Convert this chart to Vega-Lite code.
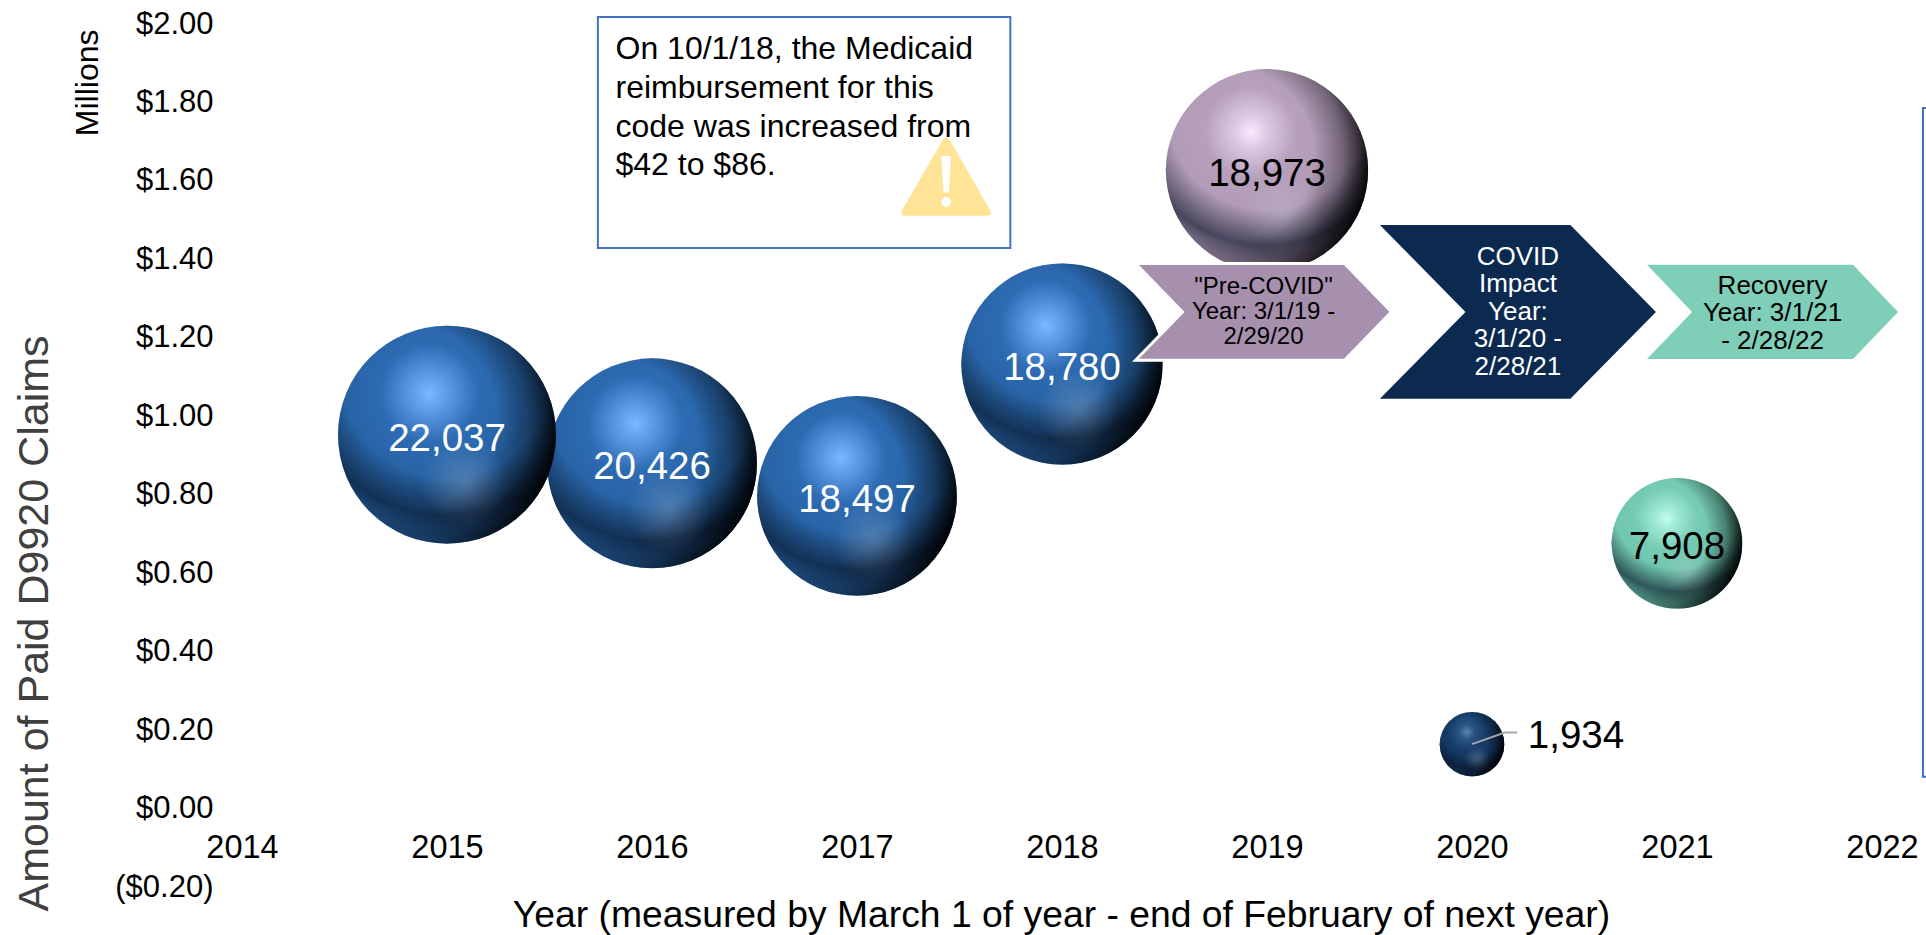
{
"$schema":"https://vega.github.io/schema/vega-lite/v6.json",
"autosize":{"type":"none"},
"padding":{"left":242,"top":22,"right":44,"bottom":50},
"width":1640,"height":863,
"background":"white",
"config":{"font":"Liberation Sans","view":{"stroke":null}},
"datasets":{
"bubbles":[
{"year":2015,"amount":0.948,"claims":22037,"period":"before"},
{"year":2016,"amount":0.875,"claims":20426,"period":"before"},
{"year":2017,"amount":0.792,"claims":18497,"period":"before"},
{"year":2018,"amount":1.128,"claims":18780,"period":"before"},
{"year":2019,"amount":1.622,"claims":18973,"period":"pre"},
{"year":2020,"amount":0.159,"claims":1934,"period":"impact"},
{"year":2021,"amount":0.671,"claims":7908,"period":"recovery"}
],
"chevrons":[
{"year":2018.983,"amount":1.261,"period":"pre","label":"\"Pre-COVID\"\nYear: 3/1/19 -\n2/29/20"},
{"year":2020.224,"amount":1.261,"period":"impact","label":"COVID\nImpact\nYear:\n3/1/20 -\n2/28/21"},
{"year":2021.466,"amount":1.261,"period":"recovery","label":"Recovery\nYear: 3/1/21\n- 2/28/22"}
],
"boxes":[
{"year":2015.736,"year2":2017.748,"amount":2.013,"amount2":1.424},
{"year":2022.2,"year2":2022.6,"amount":1.781,"amount2":0.076}
],
"note":[{"year":2015.822,"amount":1.788,"label":"On 10/1/18, the Medicaid\nreimbursement for this\ncode was increased from\n$42 to $86."}],
"warning":[{"year":2017.435,"amount":1.606}],
"units":[{"year":2013.25,"amount":1.845,"label":"Millions"}],
"leader":[{"year":2020.0,"amount":0.159},{"year":2020.16,"amount":0.1885},{"year":2020.22,"amount":0.1885}]
},
"encoding":{
"x":{"field":"year","type":"quantitative","scale":{"domain":[2014,2022],"nice":false,"zero":false},
"axis":{"values":[2014,2015,2016,2017,2018,2019,2020,2021,2022],"format":"d","grid":false,"ticks":false,"domain":false,"offset":-54,"labelPadding":0,"labelBaseline":"top","labelFontSize":32.5,"labelColor":"#000000","labelOverlap":false,"labelBound":false,"labelFlush":false,"title":"Year (measured by March 1 of year - end of February of next year)","titleFontSize":37.3,"titleFontWeight":"normal","titleColor":"#000000","titleX":819,"titleY":84,"titleBaseline":"middle","titleAlign":"center"}},
"y":{"field":"amount","type":"quantitative","scale":{"domain":[-0.2,2],"nice":false,"zero":false},
"axis":{"values":[-0.2,0,0.2,0.4,0.6,0.8,1,1.2,1.4,1.6,1.8,2],"labelExpr":"datum.value<0?'($'+format(-datum.value,'.2f')+')':'$'+format(datum.value,'.2f')","grid":false,"ticks":false,"domain":false,"labelPadding":29,"labelFontSize":31,"labelOffset":2,"labelColor":"#000000","labelOverlap":false,"labelBound":false,"labelFlush":false,"title":"Amount of Paid D9920 Claims","titleFontSize":43,"titleFontWeight":"normal","titleColor":"#404040","titleX":-195,"titleY":601,"titleBaseline":"alphabetic","titleAlign":"center","titleAngle":270}}
},
"layer":[
{"data":{"name":"boxes"},"mark":{"type":"rect","fill":"white","stroke":"#4472c4","strokeWidth":2},"encoding":{"x2":{"field":"year2"},"y2":{"field":"amount2"}}},
{"data":{"name":"warning"},"mark":{"type":"point","filled":true,"opacity":1,"fill":"#ffe498","stroke":null,"size":7921,"shape":"M-0.08,-0.82 Q0,-0.95 0.08,-0.82 L0.98,0.74 Q1.06,0.88 0.9,0.88 L-0.9,0.88 Q-1.06,0.88 -0.98,0.74 Z"},"encoding":{}},
{"data":{"name":"warning"},"mark":{"type":"point","filled":true,"opacity":1,"fill":"#ffffff","stroke":null,"size":7921,"shape":"M-0.11,-0.46 L0.11,-0.46 L0.06,0.36 L-0.06,0.36 Z M-0.11,0.57 A0.11,0.11 0 1 1 0.11,0.57 A0.11,0.11 0 1 1 -0.11,0.57 Z"},"encoding":{}},
{"data":{"name":"note"},"mark":{"type":"text","align":"left","baseline":"middle","fontSize":32,"lineHeight":38.7,"lineBreak":"\n","color":"#000000","dy":-56},"encoding":{"text":{"field":"label"}}},
{"data":{"name":"units"},"mark":{"type":"text","align":"center","baseline":"middle","angle":270,"fontSize":32,"color":"#000000"},"encoding":{"text":{"field":"label"}}},
{"data":{"name":"bubbles"},"transform":[{"filter":"datum.period==='before'"}],"mark":{"type":"circle","opacity":1,"fill":{"gradient":"radial","x1":0.42,"y1":0.31,"r1":0,"x2":0.42,"y2":0.31,"r2":0.75,"stops":[{"offset":0,"color":"#7ab8ff"},{"offset":0.1,"color":"#5f9fe8"},{"offset":0.3,"color":"#2d6bb3"},{"offset":0.6,"color":"#25609f"},{"offset":1,"color":"#235b9a"}]}},"encoding":{"size":{"field":"claims","type":"quantitative","legend":null,"scale":{"domain":[0,22037],"range":[0,47524]}}}},
{"data":{"name":"bubbles"},"transform":[{"filter":"datum.period==='pre'"}],"mark":{"type":"circle","opacity":1,"fill":{"gradient":"radial","x1":0.42,"y1":0.31,"r1":0,"x2":0.42,"y2":0.31,"r2":0.75,"stops":[{"offset":0,"color":"#fbe9ff"},{"offset":0.1,"color":"#e0cbe6"},{"offset":0.3,"color":"#b6a0bc"},{"offset":1,"color":"#a690ad"}]}},"encoding":{"size":{"field":"claims","type":"quantitative","legend":null,"scale":{"domain":[0,22037],"range":[0,47524]}}}},
{"data":{"name":"bubbles"},"transform":[{"filter":"datum.period==='impact'"}],"mark":{"type":"circle","opacity":1,"fill":{"gradient":"radial","x1":0.42,"y1":0.31,"r1":0,"x2":0.42,"y2":0.31,"r2":0.75,"stops":[{"offset":0,"color":"#5f86b0"},{"offset":0.15,"color":"#2b5485"},{"offset":0.4,"color":"#153a66"},{"offset":1,"color":"#123259"}]}},"encoding":{"size":{"field":"claims","type":"quantitative","legend":null,"scale":{"domain":[0,22037],"range":[0,47524]}}}},
{"data":{"name":"bubbles"},"transform":[{"filter":"datum.period==='recovery'"}],"mark":{"type":"circle","opacity":1,"fill":{"gradient":"radial","x1":0.42,"y1":0.31,"r1":0,"x2":0.42,"y2":0.31,"r2":0.75,"stops":[{"offset":0,"color":"#c2fff2"},{"offset":0.1,"color":"#a2ecd8"},{"offset":0.32,"color":"#75cbb3"},{"offset":1,"color":"#64b8a0"}]}},"encoding":{"size":{"field":"claims","type":"quantitative","legend":null,"scale":{"domain":[0,22037],"range":[0,47524]}}}},
{"data":{"name":"bubbles"},"mark":{"type":"circle","opacity":1,"fill":{"gradient":"radial","x1":0.5,"y1":0.2,"r1":0,"x2":0.5,"y2":0.2,"r2":0.8,"stops":[{"offset":0,"color":"rgba(8,20,40,0)"},{"offset":0.62,"color":"rgba(8,20,40,0)"},{"offset":0.84,"color":"rgba(8,20,40,0.62)"},{"offset":0.95,"color":"rgba(8,20,40,0.2)"},{"offset":1,"color":"rgba(8,20,40,0)"}]}},"encoding":{"size":{"field":"claims","type":"quantitative","legend":null,"scale":{"domain":[0,22037],"range":[0,47524]}}}},
{"data":{"name":"bubbles"},"mark":{"type":"circle","opacity":1,"fill":{"gradient":"radial","x1":0.3,"y1":0.42,"r1":0,"x2":0.3,"y2":0.42,"r2":0.72,"stops":[{"offset":0,"color":"rgba(0,0,0,0)"},{"offset":0.6,"color":"rgba(0,0,0,0)"},{"offset":0.8,"color":"rgba(0,0,0,0.35)"},{"offset":1,"color":"rgba(0,0,0,0.95)"}]}},"encoding":{"size":{"field":"claims","type":"quantitative","legend":null,"scale":{"domain":[0,22037],"range":[0,47524]}}}},
{"data":{"name":"bubbles"},"mark":{"type":"circle","opacity":1,"fill":{"gradient":"radial","x1":0.58,"y1":0.72,"r1":0,"x2":0.58,"y2":0.72,"r2":0.2,"stops":[{"offset":0,"color":"rgba(210,215,225,0.24)"},{"offset":1,"color":"rgba(210,215,225,0)"}]}},"encoding":{"size":{"field":"claims","type":"quantitative","legend":null,"scale":{"domain":[0,22037],"range":[0,47524]}}}},
{"data":{"name":"leader"},"mark":{"type":"line","color":"#a6a6a6","strokeWidth":2},"encoding":{}},
{"data":{"name":"chevrons"},"transform":[{"filter":"datum.period==='pre'"}],"mark":{"type":"point","filled":true,"opacity":1,"fill":"#a690ad","stroke":"#ffffff","strokeWidth":3,"size":65536,"shape":"M-1,-0.378 L0.633,-0.378 L1,0 L0.633,0.378 L-1,0.378 L-0.633,0 Z"},"encoding":{}},
{"data":{"name":"chevrons"},"transform":[{"filter":"datum.period==='impact'"}],"mark":{"type":"point","filled":true,"opacity":1,"fill":"#0c2a4f","stroke":null,"size":76176,"shape":"M-1,-0.63 L0.38,-0.63 L1,0 L0.38,0.63 L-1,0.63 L-0.38,0 Z"},"encoding":{}},
{"data":{"name":"chevrons"},"transform":[{"filter":"datum.period==='recovery'"}],"mark":{"type":"point","filled":true,"opacity":1,"fill":"#7fceb8","stroke":null,"size":63001,"shape":"M-1,-0.375 L0.641,-0.375 L1,0 L0.641,0.375 L-1,0.375 L-0.641,0 Z"},"encoding":{}},
{"data":{"name":"chevrons"},"transform":[{"filter":"datum.period==='pre'"}],"mark":{"type":"text","align":"center","baseline":"middle","fontSize":24,"lineHeight":25,"lineBreak":"\n","color":"#000000","dy":-25},"encoding":{"text":{"field":"label"}}},
{"data":{"name":"chevrons"},"transform":[{"filter":"datum.period==='impact'"}],"mark":{"type":"text","align":"center","baseline":"middle","fontSize":26,"lineHeight":27.5,"lineBreak":"\n","color":"#ffffff","dy":-55},"encoding":{"text":{"field":"label"}}},
{"data":{"name":"chevrons"},"transform":[{"filter":"datum.period==='recovery'"}],"mark":{"type":"text","align":"center","baseline":"middle","fontSize":26,"lineHeight":27.5,"lineBreak":"\n","color":"#000000","dy":-26},"encoding":{"text":{"field":"label"}}},
{"data":{"name":"bubbles"},"transform":[{"filter":"datum.period==='before'"}],"mark":{"type":"text","align":"center","baseline":"middle","fontSize":38.5,"color":"#ffffff","dy":4},"encoding":{"text":{"field":"claims","format":","}}},
{"data":{"name":"bubbles"},"transform":[{"filter":"datum.period==='pre'||datum.period==='recovery'"}],"mark":{"type":"text","align":"center","baseline":"middle","fontSize":38.5,"color":"#000000","dy":4},"encoding":{"text":{"field":"claims","format":","}}},
{"data":{"name":"bubbles"},"transform":[{"filter":"datum.period==='impact'"}],"mark":{"type":"text","align":"center","baseline":"middle","fontSize":38.5,"color":"#000000","dx":104,"dy":-8},"encoding":{"text":{"field":"claims","format":","}}}
]
}
